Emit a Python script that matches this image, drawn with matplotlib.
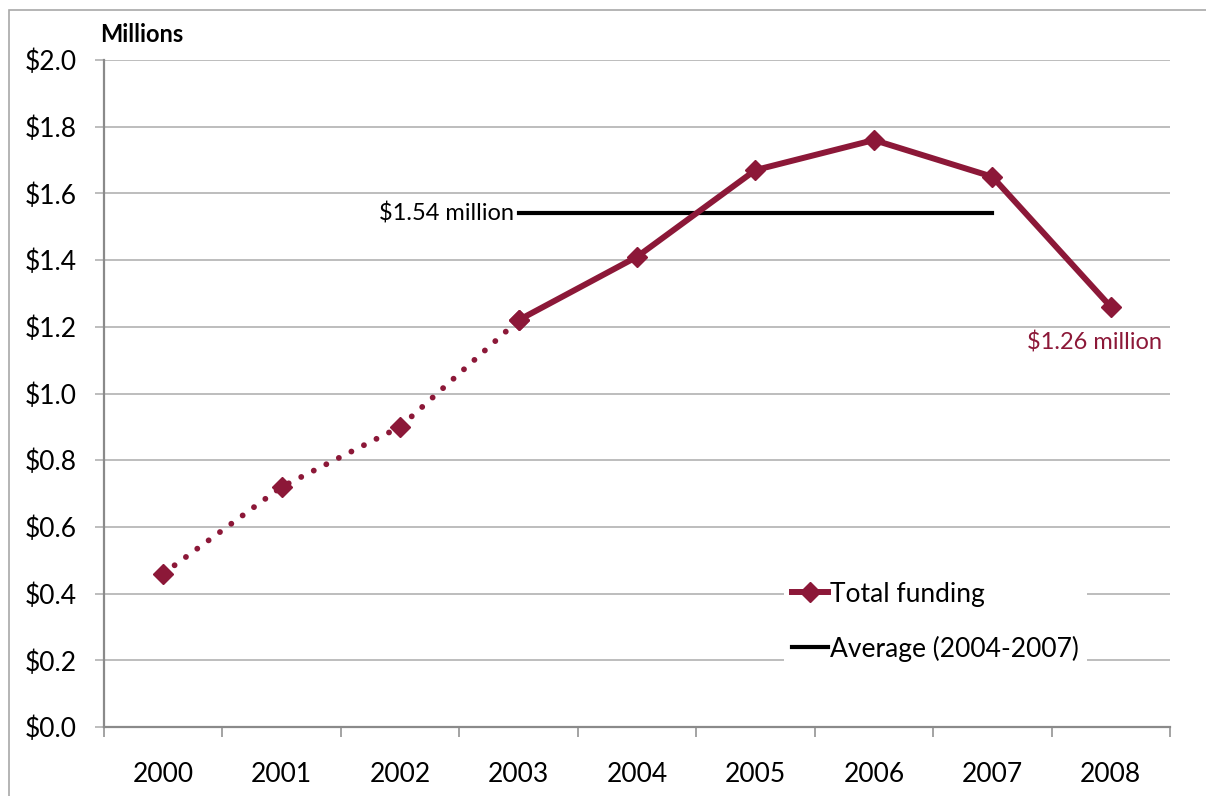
import matplotlib
matplotlib.use('Agg')
import matplotlib.pyplot as plt
from matplotlib.patches import Rectangle

# data
years = ['2000', '2001', '2002', '2003', '2004', '2005', '2006', '2007', '2008']
funding = [0.46, 0.72, 0.90, 1.22, 1.41, 1.67, 1.76, 1.65, 1.26]
avg_value = 1.54
avg_span = ['2003', '2007']
y_ticks = [0.0, 0.2, 0.4, 0.6, 0.8, 1.0, 1.2, 1.4, 1.6, 1.8, 2.0]

maroon = '#8C1838'
grid_gray = '#ababab'
axis_gray = '#8a8a8a'

plt.rcParams['font.family'] = ['Lato', 'DejaVu Sans']

fig = plt.figure(figsize=(12.06, 7.96), dpi=100)
ax = fig.add_axes([104 / 1206, 1 - 727 / 796, (1170 - 104) / 1206, (727 - 60) / 796])

x = list(range(len(years)))
split = years.index('2003')

# dotted early years, solid later years
ax.plot(x[:split + 1], funding[:split + 1], color=maroon, lw=4.2,
        linestyle=(0, (0.01, 2.4)), dash_capstyle='round', zorder=3)
ax.plot(x[:split + 1], funding[:split + 1], color=maroon, lw=0, marker='D',
        ms=10, zorder=4)
ax.plot(x[split:], funding[split:], color=maroon, lw=4.3, marker='D', ms=10,
        solid_joinstyle='miter', zorder=4, label='Total funding')

# average line 2004-2007
ax.plot([years.index(avg_span[0]), years.index(avg_span[1])], [avg_value, avg_value],
        color='black', lw=3, zorder=3, label='Average (2004-2007)')

ax.annotate('$%.2f million' % avg_value, xy=(years.index(avg_span[0]), avg_value),
            xytext=(-3, 0), textcoords='offset points', ha='right', va='center',
            fontsize=17, color='black')
ax.annotate('$%.2f million' % funding[-1], xy=(x[-1], funding[-1]),
            xytext=(-12, -26), textcoords='offset points', ha='center', va='center',
            fontsize=17, color=maroon)

ax.set_xlim(-0.5, len(years) - 0.5)
ax.set_ylim(0, 2.0)
ax.set_yticks(y_ticks)
ax.set_yticklabels(['$%.1f' % v for v in y_ticks])
ax.set_xticks(x)
ax.set_xticklabels(years)
ax.set_xticks([i - 0.5 for i in range(len(years) + 1)], minor=True)

ax.grid(axis='y', color=grid_gray, lw=1.1)
ax.set_axisbelow(True)
for side in ['top', 'right']:
    ax.spines[side].set_visible(False)
for side in ['left', 'bottom']:
    ax.spines[side].set_color(axis_gray)
    ax.spines[side].set_linewidth(1.6)

ax.tick_params(axis='y', length=6.5, width=1.1, color=grid_gray, pad=13, labelsize=19)
ax.tick_params(axis='x', which='major', length=0, pad=25, labelsize=19)
ax.tick_params(axis='x', which='minor', length=7, width=1.1, color=axis_gray)

leg = ax.legend(loc='upper left', bbox_to_anchor=(0.638, 0.230), fontsize=19,
                frameon=True, fancybox=False, framealpha=1, facecolor='white',
                edgecolor='none', handlelength=1.35, handletextpad=0.1,
                labelspacing=1.1, borderpad=0.3, borderaxespad=0)
leg.set_zorder(5)

fig.text(100 / 1206, 1 - 35 / 796, 'Millions', fontsize=17, fontweight='bold',
         ha='left', va='center')

# thin frame around the chart area
fig.add_artist(Rectangle((9 / 1206, -0.1), 2, 1 - 10 / 796 + 0.1,
                         transform=fig.transFigure, fill=False,
                         edgecolor='#a8a8a8', lw=1.2))

fig.savefig('out.png', dpi=100)
